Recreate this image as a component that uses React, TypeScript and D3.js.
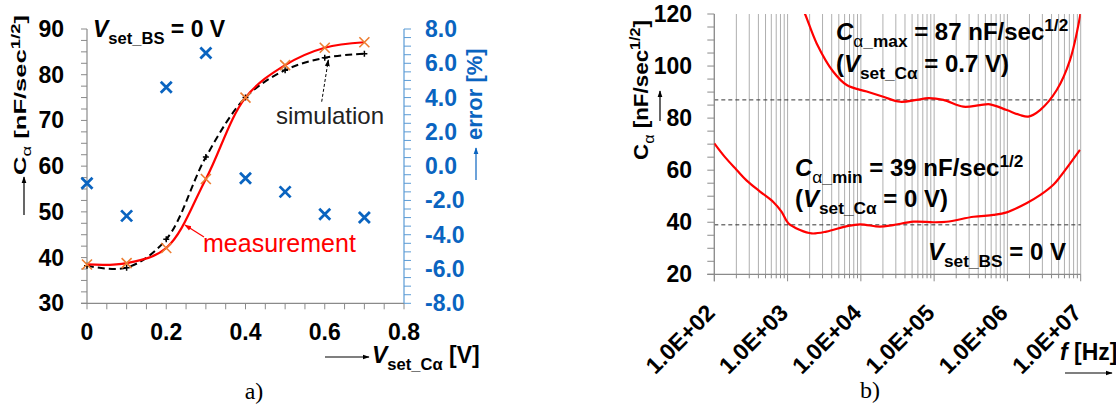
import React from 'react';
import * as d3 from 'd3';

// ---------- data: panel a ----------
const vSet = [0, 0.1, 0.2, 0.3, 0.4, 0.5, 0.6, 0.7];
const measured = [38.5, 38.8, 42.1, 57.2, 75.0, 82.1, 85.9, 87.1];
const simulated = [38.2, 37.8, 44.0, 62.0, 75.0, 81.0, 83.7, 84.6];
const errorPct = [-1.0, -2.9, 4.6, 6.6, -0.7, -1.5, -2.8, -3.0];
const xTicksA = [0, 0.2, 0.4, 0.6, 0.8];
const yTicksA = [30, 40, 50, 60, 70, 80, 90];
const errTicks = [-8, -6, -4, -2, 0, 2, 4, 6, 8];

// ---------- data: panel b ----------
const maxFreq = [1480, 1730, 2495, 4207, 6412, 12023, 20230, 34200, 57800, 83200, 133400, 250000, 422700, 578000, 977000, 1480000, 1930000, 2790000, 4710000, 7140000, 9770000, 10000000];
const maxC = [124, 120, 108.7, 97.8, 92.7, 90.2, 88.2, 86.3, 87.0, 87.7, 87.0, 84.4, 85.0, 85.3, 83.1, 81.2, 80.6, 83.1, 90.8, 102.3, 119, 121];
const minFreq = [100, 140, 202, 277, 420, 638, 830, 1023, 1479, 2133, 3388, 6457, 9772, 18197, 27542, 52481, 97724, 147911, 346737, 645654, 977237, 1819701, 2818383, 4265795, 5248075, 9772372];
const minC = [70.3, 65.0, 60.1, 56.0, 51.8, 47.8, 44.0, 39.6, 37.0, 35.7, 36.4, 38.5, 39.2, 38.3, 38.9, 40.2, 40.0, 40.2, 42.1, 42.8, 43.8, 47.3, 50.5, 54.5, 57.5, 67.8];
const cMaxRef = 87;
const cMinRef = 39;
const yTicksB = [20, 40, 60, 80, 100, 120];
const decades = [1e2, 1e3, 1e4, 1e5, 1e6, 1e7];
const decadeLabels = ['1.0E+02', '1.0E+03', '1.0E+04', '1.0E+05', '1.0E+06', '1.0E+07'];

const FONT = '"Liberation Sans", Arial, sans-serif';
const AXIS = '#8a8a8a';
const BLUE = '#0a64c0';
const BLUE_AXIS = '#5b9bd5';
const ORANGE = '#ed7d31';

type Part = { t: string; s?: 'sub' | 'sup'; i?: boolean; w?: string };

function Rich(props: {
  x: number; y: number; parts: Part[]; size: number; fill?: string; anchor?: string;
  transform?: string; textLength?: number; weight?: string;
}) {
  const { x, y, parts, size, fill = '#000', anchor = 'start', transform, textLength, weight = 'bold' } = props;
  let prev = 0;
  return (
    <text
      x={x}
      y={y}
      fontSize={size}
      fill={fill}
      textAnchor={anchor}
      transform={transform}
      fontFamily={FONT}
      fontWeight={weight}
      style={{ whiteSpace: 'pre' }}
      {...(textLength ? { textLength, lengthAdjust: 'spacingAndGlyphs' } : {})}
    >
      {parts.map((p, k) => {
        const shift = p.s === 'sub' ? size * 0.3 : p.s === 'sup' ? -size * 0.38 : 0;
        const dy = shift - prev;
        prev = shift;
        return (
          <tspan
            key={k}
            dy={dy !== 0 ? dy : undefined}
            fontSize={p.s ? size * 0.72 : undefined}
            fontStyle={p.i ? 'italic' : undefined}
            fontWeight={p.w}
          >
            {p.t}
          </tspan>
        );
      })}
    </text>
  );
}

function XMark({ x, y, r, color, w }: { x: number; y: number; r: number; color: string; w: number }) {
  return (
    <path d={`M${x - r},${y - r}L${x + r},${y + r}M${x - r},${y + r}L${x + r},${y - r}`} stroke={color} strokeWidth={w} fill="none" />
  );
}

export default function App() {
  // panel a scales
  const xA = d3.scaleLinear().domain([0, 0.8]).range([87, 404]);
  const yA = d3.scaleLinear().domain([30, 90]).range([303.3, 29]);
  const yE = d3.scaleLinear().domain([-8, 8]).range([303.3, 29]);
  // panel b scales
  const xB = d3.scaleLog().domain([1e2, 1e7]).range([714.3, 1080.7]);
  const yB = d3.scaleLinear().domain([20, 120]).range([274.3, 14]);

  const lineA = d3.line<number>().x((_, i) => xA(vSet[i])).curve(d3.curveCatmullRom.alpha(0.5));
  const measPath = lineA.y((d) => yA(d))(measured) || '';
  const simPath = lineA.y((d) => yA(d))(simulated) || '';

  const lineMax = d3.line<number>().x((_, i) => xB(maxFreq[i])).y((d) => yB(d)).curve(d3.curveCatmullRom.alpha(0.5));
  const lineMin = d3.line<number>().x((_, i) => xB(minFreq[i])).y((d) => yB(d)).curve(d3.curveCatmullRom.alpha(0.5));

  const minorA = d3.range(30, 90.01, 2.5);
  const minorX = d3.range(0, 0.801, 0.05);
  const minorE = d3.range(-8, 8.01, 0.5);
  const minorB = d3.range(20, 120.01, 5);
  const logGrid: number[] = [];
  for (let k = 2; k < 7; k++) for (let m = 1; m <= 9; m++) logGrid.push(m * Math.pow(10, k));
  logGrid.push(1e7);

  const [x0B, x1B] = xB.range();
  const [y1B, y0B] = yB.range();

  return (
    <svg width={1116} height={408} style={{ position: 'absolute', left: 0, top: 0, background: '#fff' }} fontFamily={FONT}>
      <defs>
        <marker id="ahK" viewBox="0 0 10 10" refX="9" refY="5" markerWidth="7" markerHeight="7" markerUnits="userSpaceOnUse" orient="auto">
          <path d="M0,1.5L10,5L0,8.5z" fill="#000" />
        </marker>
        <marker id="ahR" viewBox="0 0 10 10" refX="9" refY="5" markerWidth="7" markerHeight="7" markerUnits="userSpaceOnUse" orient="auto">
          <path d="M0,1.5L10,5L0,8.5z" fill="#ff0000" />
        </marker>
        <marker id="ahB" viewBox="0 0 10 10" refX="9" refY="5" markerWidth="7" markerHeight="7" markerUnits="userSpaceOnUse" orient="auto">
          <path d="M0,1.5L10,5L0,8.5z" fill={BLUE} />
        </marker>
        <clipPath id="clipB">
          <rect x={x0B} y={y0B} width={x1B - x0B} height={y1B - y0B} />
        </clipPath>
      </defs>

      {/* ================= panel a ================= */}
      {/* left axis */}
      <line x1={xA(0)} x2={xA(0)} y1={yA(90)} y2={yA(30)} stroke={AXIS} strokeWidth={1.2} />
      {minorA.map((v) => (
        <line key={'ma' + v} x1={xA(0) - 6} x2={xA(0)} y1={yA(v)} y2={yA(v)} stroke={AXIS} strokeWidth={1} />
      ))}
      {yTicksA.map((v) => (
        <text key={'ya' + v} x={64} y={yA(v) + 8} textAnchor="end" fontSize={23} fontWeight="bold">{v}</text>
      ))}
      {/* x axis */}
      <line x1={xA(0) - 6} x2={xA(0.8)} y1={yA(30)} y2={yA(30)} stroke={AXIS} strokeWidth={1.2} />
      {minorX.map((v) => (
        <line key={'mx' + v} x1={xA(v)} x2={xA(v)} y1={yA(30)} y2={yA(30) + 6} stroke={AXIS} strokeWidth={1} />
      ))}
      {xTicksA.map((v) => (
        <text key={'xa' + v} x={xA(v)} y={340} textAnchor="middle" fontSize={23} fontWeight="bold">{v === 0 ? '0' : String(v)}</text>
      ))}
      {/* right error axis */}
      <line x1={xA(0.8)} x2={xA(0.8)} y1={yE(8)} y2={yE(-8)} stroke={BLUE_AXIS} strokeWidth={1.2} />
      {minorE.map((v) => (
        <line key={'me' + v} x1={xA(0.8)} x2={xA(0.8) + 7} y1={yE(v)} y2={yE(v)} stroke={BLUE_AXIS} strokeWidth={1} />
      ))}
      {errTicks.map((v) => (
        <text key={'ye' + v} x={425} y={yE(v) + 8} textAnchor="start" fontSize={23} fontWeight="bold" fill={BLUE}>{v.toFixed(1)}</text>
      ))}

      {/* curves */}
      <path d={simPath} fill="none" stroke="#000" strokeWidth={2} strokeDasharray="7,4" />
      {vSet.map((v, i) => (
        <path key={'sm' + i} d={`M${xA(v) - 3},${yA(simulated[i])}H${xA(v) + 3}M${xA(v)},${yA(simulated[i]) - 3}V${yA(simulated[i]) + 3}`} stroke="#000" strokeWidth={1.5} />
      ))}
      <path d={measPath} fill="none" stroke="#ff0000" strokeWidth={2.2} />
      {vSet.map((v, i) => (
        <XMark key={'mm' + i} x={xA(v)} y={yA(measured[i])} r={5} color={ORANGE} w={1.6} />
      ))}
      {vSet.map((v, i) => (
        <XMark key={'em' + i} x={xA(v)} y={yE(errorPct[i])} r={5.5} color={BLUE} w={2.8} />
      ))}

      {/* annotations */}
      <Rich x={93} y={37} size={23} parts={[{ t: 'V', i: true }, { t: 'set_BS', s: 'sub' }, { t: ' = 0 V' }]} />
      <text x={276} y={124} fontSize={24} fill="#222">simulation</text>
      <line x1={321.7} y1={101.7} x2={328.3} y2={60} stroke="#000" strokeWidth={1} strokeDasharray="3,2" markerEnd="url(#ahK)" />
      <text x={203} y={252} fontSize={25} fill="#ff0000">measurement</text>
      <line x1={204} y1={237} x2={185} y2={225} stroke="#ff0000" strokeWidth={1.2} markerEnd="url(#ahR)" />

      {/* axis titles */}
      <line x1={24} y1={215} x2={24} y2={177} stroke="#000" strokeWidth={1.2} markerEnd="url(#ahK)" />
      <Rich x={0} y={0} size={17} transform="translate(26,175) rotate(-90)" textLength={160}
        parts={[{ t: 'C' }, { t: 'α', s: 'sub', w: 'normal' }, { t: ' [nF/sec' }, { t: '1/2', s: 'sup' }, { t: ']' }]} />
      <Rich x={0} y={0} size={22} fill={BLUE} transform="translate(482,140) rotate(-90)"
        parts={[{ t: 'error [%]' }]} />
      <line x1={476} y1={180} x2={476} y2={148} stroke={BLUE} strokeWidth={1.2} markerEnd="url(#ahB)" />
      <line x1={325} y1={357} x2={369} y2={357} stroke="#000" strokeWidth={1.2} markerEnd="url(#ahK)" />
      <Rich x={372} y={363} size={23} parts={[{ t: 'V', i: true }, { t: 'set_Cα', s: 'sub' }, { t: ' [V]' }]} />
      <text x={254} y={399} textAnchor="middle" fontSize={24} fontFamily='"Liberation Serif", "Times New Roman", serif'>a)</text>

      {/* ================= panel b ================= */}
      {logGrid.map((f, i) => (
        <line key={'g' + i} x1={xB(f)} x2={xB(f)} y1={y0B} y2={y1B} stroke="#a6a6a6" strokeWidth={0.9} />
      ))}
      <line x1={x0B} x2={x1B} y1={yB(cMaxRef)} y2={yB(cMaxRef)} stroke="#333" strokeWidth={1} strokeDasharray="4,3" />
      <line x1={x0B} x2={x1B} y1={yB(cMinRef)} y2={yB(cMinRef)} stroke="#333" strokeWidth={1} strokeDasharray="4,3" />
      {/* y axis */}
      <line x1={x0B} x2={x0B} y1={y0B} y2={y1B} stroke={AXIS} strokeWidth={1.2} />
      {minorB.map((v) => (
        <line key={'mb' + v} x1={x0B - 7} x2={x0B} y1={yB(v)} y2={yB(v)} stroke={AXIS} strokeWidth={1} />
      ))}
      {yTicksB.map((v) => (
        <text key={'yb' + v} x={692} y={yB(v) + 8} textAnchor="end" fontSize={23} fontWeight="bold">{v}</text>
      ))}
      {/* x axis */}
      <line x1={x0B - 7} x2={x1B} y1={y1B} y2={y1B} stroke={AXIS} strokeWidth={1.2} />
      {logGrid.map((f, i) => (
        <line key={'xt' + i} x1={xB(f)} x2={xB(f)} y1={y1B} y2={y1B + (decades.includes(f) ? 7 : 4)} stroke={AXIS} strokeWidth={1} />
      ))}
      <line x1={x0B} x2={x0B} y1={y1B} y2={y1B + 7} stroke={AXIS} strokeWidth={1} />
      {decades.map((f, i) => (
        <text key={'xb' + i} x={0} y={0} textAnchor="end" fontSize={23} fontWeight="bold"
          transform={`translate(${xB(f) + 2},${y1B + 40}) rotate(-45)`}>{decadeLabels[i]}</text>
      ))}

      <g clipPath="url(#clipB)">
        <path d={lineMax(maxC) || ''} fill="none" stroke="#ff0000" strokeWidth={2.2} />
        <path d={lineMin(minC) || ''} fill="none" stroke="#ff0000" strokeWidth={2.2} />
      </g>

      {/* annotations */}
      <Rich x={836} y={40} size={24} parts={[{ t: 'C', i: true }, { t: 'α', s: 'sub', w: 'normal' }, { t: '_max', s: 'sub' }, { t: ' = 87 nF/sec' }, { t: '1/2', s: 'sup' }]} />
      <Rich x={836} y={72} size={24} parts={[{ t: '(' }, { t: 'V', i: true }, { t: 'set_Cα', s: 'sub' }, { t: ' = 0.7 V)' }]} />
      <Rich x={795} y={176} size={24} parts={[{ t: 'C', i: true }, { t: 'α', s: 'sub', w: 'normal' }, { t: '_min', s: 'sub' }, { t: ' = 39 nF/sec' }, { t: '1/2', s: 'sup' }]} />
      <Rich x={795} y={207} size={24} parts={[{ t: '(' }, { t: 'V', i: true }, { t: 'set_Cα', s: 'sub' }, { t: ' = 0 V)' }]} />
      <Rich x={928} y={260} size={24} parts={[{ t: 'V', i: true }, { t: 'set_BS', s: 'sub' }, { t: ' = 0 V' }]} />

      {/* axis titles */}
      <Rich x={0} y={0} size={21} transform="translate(648,160) rotate(-90)" textLength={140}
        parts={[{ t: 'C' }, { t: 'α', s: 'sub', w: 'normal' }, { t: ' [nF/sec' }, { t: '1/2', s: 'sup' }, { t: ']' }]} />
      <line x1={660} y1={121} x2={660} y2={91} stroke="#000" strokeWidth={1.2} markerEnd="url(#ahK)" />
      <Rich x={1060} y={360} size={23} parts={[{ t: 'f', i: true }, { t: ' [Hz]' }]} />
      <line x1={1065} y1={373} x2={1112} y2={373} stroke="#000" strokeWidth={1.2} markerEnd="url(#ahK)" />
      <text x={870} y={398} textAnchor="middle" fontSize={24} fontFamily='"Liberation Serif", "Times New Roman", serif'>b)</text>
    </svg>
  );
}
